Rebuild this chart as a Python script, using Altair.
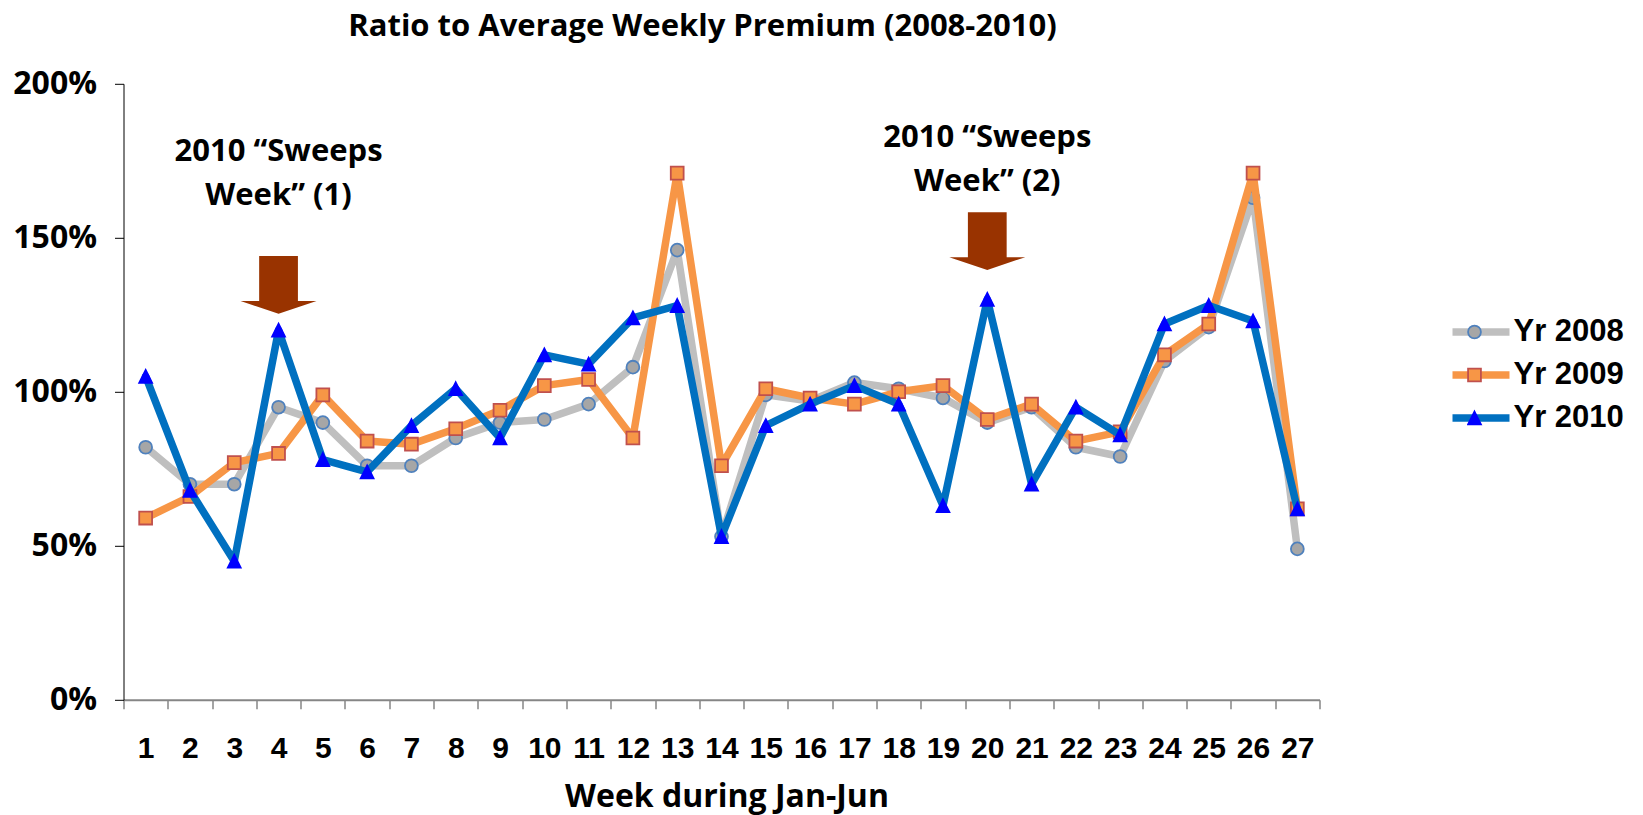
import altair as alt
import pandas as pd

# ---- data ----
weeks = list(range(1, 28))
yr2008 = [82, 70, 70, 95, 90, 76, 76, 85, 90, 91, 96, 108, 146, 53, 99, 97, 103, 101, 98, 90, 95, 82, 79, 110, 121, 163, 49]
yr2009 = [59, 66, 77, 80, 99, 84, 83, 88, 94, 102, 104, 85, 171, 76, 101, 98, 96, 100, 102, 91, 96, 84, 87, 112, 122, 171, 62]
yr2010 = [105, 68, 45, 120, 78, 74, 89, 101, 85, 112, 109, 124, 128, 53, 89, 96, 102, 96, 63, 130, 70, 95, 86, 122, 128, 123, 62]
series_names = ["Yr 2008", "Yr 2009", "Yr 2010"]

line_colors = ["#BFBFBF", "#F79646", "#0070C0"]
marker_fills = ["#A6A6A6", "#F79646", "#0000FF"]
marker_strokes = ["#4F81BD", "#C0504D", "#0000FF"]
marker_shapes = ["circle", "square", "M0,-1L1,1L-1,1Z"]
marker_sizes = [165, 165, 600]

ann_weeks = [4, 4, 20, 20]
ann_values = [174.8, 160.7, 179.4, 165.1]
ann_texts = ["2010 \u201cSweeps", "Week\u201d (1)", "2010 \u201cSweeps", "Week\u201d (2)"]
arrow_weeks = [4, 20]
arrow_values = [134.7, 148.9]

y_ticks = [0, 50, 100, 150, 200]

# ---- tables ----
rows = []
for name, vals in zip(series_names, [yr2008, yr2009, yr2010]):
    for w, v in zip(weeks, vals):
        rows.append({"week": w, "value": v, "series": name, "series_line": name})
df = pd.DataFrame(rows)
ann_df = pd.DataFrame({"week": ann_weeks, "value": ann_values, "text": ann_texts})
arrow_df = pd.DataFrame({"week": arrow_weeks, "value": arrow_values})

ARROW = "M-0.51,-0.76L0.51,-0.76L0.51,0.42L1,0.42L0,0.76L-1,0.42L-0.51,0.42Z"

x_axis = alt.Axis(
    title="Week during Jan-Jun", labelAngle=0, tickBand="extent", tickSize=9,
    tickColor="#868686", tickWidth=1.5, domainColor="#868686", domainWidth=2,
    labelFont="Liberation Sans", labelFontWeight="bold", labelFontSize=30,
    labelColor="black", labelPadding=25, grid=False,
    titleFont="Open Sans", titleFontSize=32, titleFontWeight="bold",
    titleColor="black", titleBaseline="alphabetic", titleY=107, titleX=603,
)
y_axis = alt.Axis(
    values=y_ticks, labelExpr="datum.value + '%'", title=None, tickSize=9,
    tickColor="black", domainColor="black", domainWidth=1, labelPadding=18,
    labelFont="Open Sans", labelFontSize=32, labelFontWeight="bold",
    labelColor="black", grid=False,
)
x_enc = alt.X("week:O", bandPosition=0.5,
              scale=alt.Scale(type="band", paddingInner=0, paddingOuter=0, domain=weeks),
              axis=x_axis)
y_enc = alt.Y("value:Q", scale=alt.Scale(domain=[0, 200], nice=False), axis=y_axis)

legend_lines = alt.Legend(
    orient="none", legendX=1325, legendY=226.7, title=None, symbolType="stroke",
    symbolSize=3249, symbolStrokeWidth=7.5, labelFont="Liberation Sans",
    labelFontWeight="bold", labelFontSize=31, labelColor="black", labelOffset=0,
    clipHeight=43, rowPadding=0, padding=0, zindex=0,
)
legend_marks = alt.Legend(
    orient="none", legendX=1343.5, legendY=226.7, title=None,
    symbolStrokeWidth=1.8, labelFontSize=1, labelOpacity=0, clipHeight=43,
    rowPadding=0, padding=0, zindex=1, symbolOpacity=1,
)

# colour scale takes its domain from its own field so that its legend stays separate
color_enc = alt.Color("series_line:N", scale=alt.Scale(range=line_colors),
                      legend=legend_lines)
shape_enc = alt.Shape("series:N", scale=alt.Scale(domain=series_names, range=marker_shapes),
                      legend=legend_marks)
fill_enc = alt.Fill("series:N", scale=alt.Scale(domain=series_names, range=marker_fills),
                    legend=legend_marks)
stroke_enc = alt.Stroke("series:N", scale=alt.Scale(domain=series_names, range=marker_strokes),
                        legend=legend_marks)
size_enc = alt.Size("series:N", scale=alt.Scale(domain=series_names, range=marker_sizes),
                    legend=legend_marks)

base = alt.Chart(df)
layers = []
for s in series_names:
    sel = base.transform_filter(alt.datum.series == s)
    layers.append(sel.mark_line(strokeWidth=7.5, strokeJoin="round", strokeCap="round").encode(
        x=x_enc, y=y_enc, color=color_enc))
    layers.append(sel.mark_point(filled=True, opacity=1, strokeWidth=1.8).encode(
        x=x_enc, y=y_enc, shape=shape_enc, fill=fill_enc, stroke=stroke_enc, size=size_enc))

arrows = alt.Chart(arrow_df).mark_point(
    shape=ARROW, filled=True, fill="#993300", strokeWidth=0, size=5776, opacity=1
).encode(x=x_enc, y=y_enc)

texts = alt.Chart(ann_df).mark_text(
    font="Open Sans", fontWeight="bold", fontSize=31, align="center",
    baseline="alphabetic", color="black"
).encode(x=x_enc, y=y_enc, text="text:N")

chart = alt.layer(*layers, arrows, texts).properties(
    width=1196, height=616,
    title=alt.TitleParams(
        "Ratio to Average Weekly Premium (2008-2010)", font="Open Sans",
        fontSize=31, fontWeight="bold", color="black", anchor="middle",
        frame="group", dx=-19, offset=25,
    ),
    padding={"left": 115.5, "top": 75.8, "right": 310, "bottom": 115.2},
    autosize=alt.AutoSizeParams(type="none"),
).configure(background="white").configure_view(stroke=None)

chart.save("out.html", embed_options={"renderer": "svg", "actions": False})
